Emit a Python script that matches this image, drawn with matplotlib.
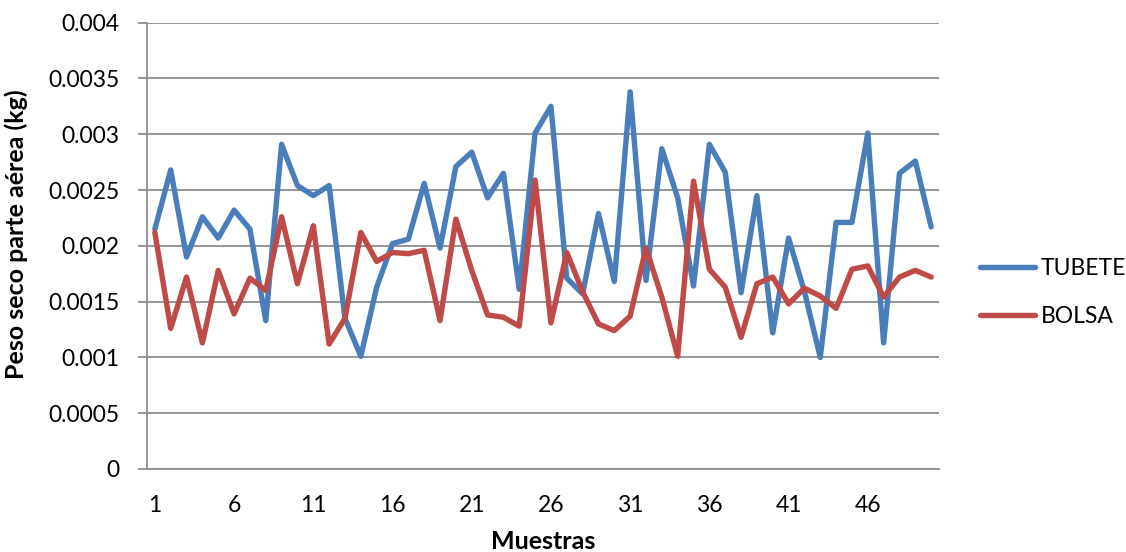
import matplotlib.pyplot as plt
import numpy as np

plt.rcParams['font.family'] = ['Lato', 'DejaVu Sans']

# dry weight of the aerial part (kg) per sample
muestras = np.arange(1, 51)
tubete = [0.00215, 0.00268, 0.00190, 0.00226, 0.00207, 0.00232, 0.00215, 0.00133, 0.00291, 0.00254,
          0.00245, 0.00254, 0.00135, 0.00101, 0.00163, 0.00202, 0.00206, 0.00256, 0.00198, 0.00271,
          0.00284, 0.00243, 0.00265, 0.00161, 0.00301, 0.00325, 0.00171, 0.00157, 0.00229, 0.00168,
          0.00338, 0.00169, 0.00287, 0.00243, 0.00164, 0.00291, 0.00266, 0.00158, 0.00245, 0.00122,
          0.00207, 0.00159, 0.00100, 0.00221, 0.00221, 0.00301, 0.00113, 0.00265, 0.00276, 0.00217]
bolsa = [0.00212, 0.00126, 0.00172, 0.00113, 0.00178, 0.00139, 0.00171, 0.00160, 0.00226, 0.00166,
         0.00218, 0.00112, 0.00135, 0.00212, 0.00186, 0.00194, 0.00193, 0.00196, 0.00133, 0.00224,
         0.00178, 0.00138, 0.00136, 0.00128, 0.00259, 0.00131, 0.00194, 0.00159, 0.00130, 0.00124,
         0.00137, 0.00198, 0.00154, 0.00101, 0.00258, 0.00179, 0.00163, 0.00118, 0.00166, 0.00172,
         0.00148, 0.00162, 0.00155, 0.00144, 0.00179, 0.00182, 0.00154, 0.00172, 0.00178, 0.00172]

x_ticks = [1, 6, 11, 16, 21, 26, 31, 36, 41, 46]
y_ticks = [0, 0.0005, 0.001, 0.0015, 0.002, 0.0025, 0.003, 0.0035, 0.004]
y_labels = ['0', '0.0005', '0.001', '0.0015', '0.002', '0.0025', '0.003', '0.0035', '0.004']

fig = plt.figure(figsize=(11.26, 5.52), dpi=100)
ax = fig.add_axes([0.1305, 0.1504, 0.7035, 0.8085])

grey = '#8c8c8c'

#plotting
ax.plot(muestras, tubete, color='#4a7ebb', linewidth=3.9, solid_joinstyle='round', solid_capstyle='round', label='TUBETE')
ax.plot(muestras, bolsa, color='#be4b48', linewidth=3.9, solid_joinstyle='round', solid_capstyle='round', label='BOLSA')

#axis range
ax.set_xlim(0.5, 50.5)
ax.set_ylim(0, 0.004)

#ticks and grid
ax.set_xticks(x_ticks)
ax.set_yticks(y_ticks)
ax.set_yticklabels(y_labels)
ax.grid(axis='y', color=grey, linewidth=1.3)
ax.set_axisbelow(True)
ax.tick_params(axis='y', direction='out', length=6.5, width=1.3, color=grey, labelsize=16.5, pad=13)
ax.tick_params(axis='x', length=0, labelsize=16.5, pad=19)

for side in ['top', 'right']:
    ax.spines[side].set_visible(False)
for side in ['left', 'bottom']:
    ax.spines[side].set_color(grey)
    ax.spines[side].set_linewidth(1.3)

#axes labels
ax.set_xlabel('Muestras', fontsize=18, fontweight='bold', labelpad=10)
ax.set_ylabel('Peso seco parte aérea (kg)', fontsize=18, fontweight='bold')
ax.yaxis.set_label_coords(-0.15, 0.527)

ax.legend(loc='center left', bbox_to_anchor=(0.862, 0.47), bbox_transform=fig.transFigure,
          frameon=False, fontsize=16.5, handlelength=2.4, handletextpad=0.25, labelspacing=1.15,
          borderaxespad=0)

plt.savefig('out.png', dpi=100)
